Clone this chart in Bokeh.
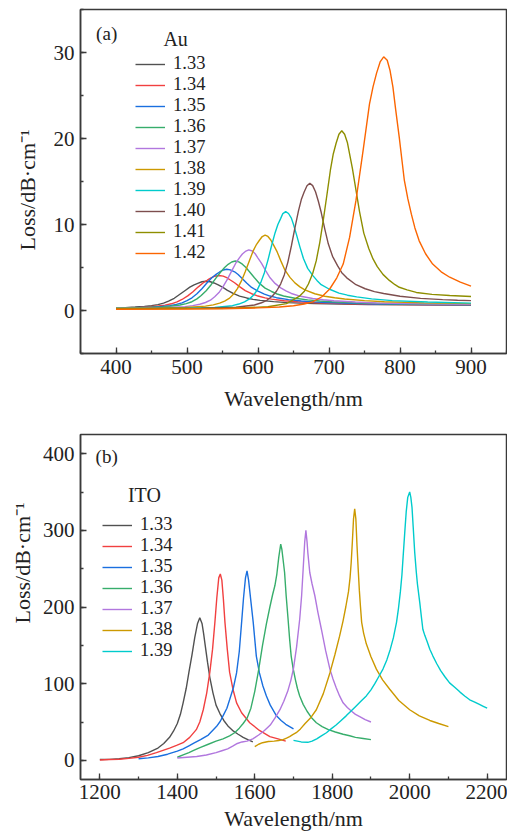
from bokeh.plotting import figure
from bokeh.models import Range1d, SingleIntervalTicker, Legend, LegendItem, Label, Title
from bokeh.layouts import column
from bokeh.embed import file_html
from bokeh.resources import INLINE

FONT = "Liberation Serif"

# ---------------- data: (a) Au ----------------
au_labels = ["1.33", "1.34", "1.35", "1.36", "1.37", "1.38", "1.39", "1.40", "1.41", "1.42"]

au_wl_133 = [400, 413, 427, 440, 450, 459, 467, 474, 482, 489, 497, 504, 510, 516, 521, 527, 533, 538, 544, 550, 557, 565, 574, 584, 593, 603, 622, 641, 660, 679, 717, 755, 831, 900]
au_loss_133 = [0.32, 0.34, 0.40, 0.47, 0.56, 0.69, 0.86, 1.10, 1.42, 1.83, 2.30, 2.71, 2.98, 3.18, 3.34, 3.40, 3.34, 3.20, 2.98, 2.72, 2.35, 1.98, 1.68, 1.46, 1.30, 1.18, 1.03, 0.92, 0.86, 0.81, 0.74, 0.69, 0.65, 0.62]

au_wl_134 = [400, 434, 447, 460, 469, 478, 486, 493, 501, 508, 516, 523, 529, 534, 539, 545, 551, 556, 561, 567, 574, 582, 591, 600, 610, 619, 637, 656, 675, 693, 730, 767, 841, 900]
au_loss_134 = [0.30, 0.36, 0.43, 0.52, 0.63, 0.78, 1.00, 1.28, 1.70, 2.16, 2.75, 3.23, 3.55, 3.80, 3.99, 4.07, 4.00, 3.82, 3.55, 3.23, 2.78, 2.31, 1.95, 1.68, 1.47, 1.32, 1.13, 1.01, 0.93, 0.87, 0.79, 0.73, 0.67, 0.64]

au_wl_135 = [400, 416, 451, 464, 476, 485, 493, 500, 507, 514, 521, 528, 535, 541, 546, 551, 556, 561, 567, 572, 577, 584, 591, 600, 609, 617, 626, 643, 661, 678, 696, 731, 766, 836, 900]
au_loss_135 = [0.29, 0.30, 0.39, 0.47, 0.57, 0.71, 0.89, 1.15, 1.48, 1.95, 2.53, 3.20, 3.80, 4.20, 4.48, 4.71, 4.80, 4.72, 4.50, 4.18, 3.78, 3.20, 2.68, 2.25, 1.91, 1.68, 1.49, 1.26, 1.10, 1.00, 0.93, 0.83, 0.76, 0.70, 0.65]

au_wl_136 = [400, 432, 466, 479, 490, 499, 507, 514, 520, 527, 534, 541, 548, 553, 558, 563, 568, 573, 578, 583, 588, 595, 602, 610, 619, 627, 636, 652, 670, 687, 704, 738, 772, 840, 900]
au_loss_136 = [0.28, 0.32, 0.42, 0.52, 0.64, 0.80, 1.02, 1.35, 1.74, 2.30, 3.00, 3.80, 4.54, 5.00, 5.37, 5.64, 5.75, 5.65, 5.39, 5.00, 4.50, 3.80, 3.15, 2.60, 2.21, 1.92, 1.69, 1.42, 1.23, 1.10, 1.02, 0.89, 0.81, 0.73, 0.68]

au_wl_137 = [400, 440, 467, 497, 508, 518, 526, 533, 539, 545, 551, 557, 563, 569, 574, 578, 583, 587, 592, 596, 600, 605, 611, 617, 624, 632, 640, 647, 660, 677, 692, 707, 737, 767, 827, 900]
au_loss_137 = [0.28, 0.30, 0.33, 0.45, 0.57, 0.73, 0.93, 1.20, 1.60, 2.09, 2.80, 3.65, 4.60, 5.55, 6.15, 6.57, 6.91, 7.05, 6.92, 6.60, 6.10, 5.49, 4.60, 3.80, 3.15, 2.63, 2.25, 1.98, 1.65, 1.40, 1.25, 1.14, 0.98, 0.88, 0.78, 0.71]

au_wl_138 = [400, 460, 498, 526, 537, 546, 553, 560, 566, 571, 577, 582, 588, 593, 598, 602, 606, 610, 614, 618, 622, 627, 632, 638, 645, 652, 659, 666, 680, 694, 708, 722, 750, 778, 834, 900]
au_loss_138 = [0.27, 0.30, 0.35, 0.51, 0.65, 0.85, 1.10, 1.44, 1.95, 2.55, 3.50, 4.51, 5.80, 6.90, 7.70, 8.17, 8.60, 8.77, 8.61, 8.20, 7.60, 6.81, 5.80, 4.69, 3.85, 3.21, 2.75, 2.40, 1.95, 1.66, 1.48, 1.34, 1.15, 1.01, 0.89, 0.80]

au_wl_139 = [400, 500, 539, 564, 573, 581, 588, 594, 599, 604, 609, 614, 619, 624, 628, 632, 635, 639, 643, 647, 650, 654, 659, 664, 670, 677, 683, 689, 700, 714, 726, 739, 760, 789, 839, 900]
au_loss_139 = [0.25, 0.27, 0.36, 0.56, 0.75, 1.01, 1.35, 1.80, 2.40, 3.27, 4.40, 5.86, 7.50, 9.02, 10.00, 10.71, 11.27, 11.50, 11.28, 10.74, 10.00, 8.88, 7.40, 6.05, 4.90, 4.09, 3.50, 3.00, 2.50, 2.02, 1.78, 1.58, 1.35, 1.15, 0.98, 0.86]

au_wl_140 = [400, 520, 569, 595, 605, 613, 620, 626, 632, 637, 642, 647, 652, 657, 661, 665, 669, 673, 677, 681, 685, 689, 694, 699, 705, 712, 718, 725, 738, 751, 764, 777, 800, 829, 860, 881, 900]
au_loss_140 = [0.22, 0.26, 0.38, 0.64, 0.90, 1.22, 1.65, 2.24, 3.10, 4.14, 5.60, 7.50, 9.60, 11.59, 12.90, 13.78, 14.50, 14.80, 14.52, 13.81, 12.70, 11.42, 9.50, 7.75, 6.30, 5.21, 4.40, 3.80, 3.00, 2.53, 2.20, 1.97, 1.65, 1.41, 1.27, 1.19, 1.15]

au_wl_141 = [400, 560, 614, 640, 658, 665, 671, 677, 682, 687, 692, 697, 702, 706, 710, 714, 718, 722, 726, 733, 738, 743, 749, 756, 762, 768, 776, 785, 793, 799, 810, 823, 845, 870, 900]
au_loss_141 = [0.20, 0.26, 0.43, 0.80, 1.63, 2.20, 3.08, 4.30, 5.77, 7.90, 10.54, 13.40, 16.34, 18.20, 19.45, 20.49, 20.90, 20.50, 19.50, 16.50, 14.00, 11.50, 9.00, 7.20, 6.00, 5.10, 4.20, 3.50, 3.00, 2.70, 2.40, 2.10, 1.88, 1.74, 1.63]

au_wl_142 = [400, 500, 550, 600, 630, 650, 665, 677, 690, 701, 711, 720, 729, 738, 748, 757, 762, 767, 772, 777, 782, 786, 790, 794, 799, 803, 806, 811, 816, 821, 827, 836, 846, 858, 870, 885, 900]
au_loss_142 = [0.15, 0.17, 0.20, 0.30, 0.40, 0.55, 0.75, 1.00, 1.60, 2.50, 3.80, 5.40, 8.50, 12.80, 18.60, 24.00, 26.00, 27.60, 28.90, 29.50, 29.10, 27.90, 26.00, 23.30, 20.10, 17.30, 15.20, 13.00, 11.20, 9.60, 8.10, 6.60, 5.40, 4.50, 3.87, 3.30, 2.83]

# ---------------- data: (b) ITO ----------------
ito_labels = ["1.33", "1.34", "1.35", "1.36", "1.37", "1.38", "1.39"]

ito_wl_133 = [1200, 1225, 1250, 1275, 1300, 1325, 1350, 1365, 1380, 1390, 1400, 1408, 1415, 1423, 1430, 1438, 1445, 1452, 1458, 1464, 1468, 1472, 1478, 1484, 1492, 1500, 1510, 1520, 1532, 1545, 1557, 1570, 1582, 1595]
ito_loss_133 = [1, 1.3, 2, 3.5, 6, 10, 16, 22, 30, 38, 48, 60, 75, 94, 115, 138, 160, 178, 186, 178, 165, 150, 128, 108, 88, 72, 61, 52, 44, 38, 34, 30, 27, 24]

ito_wl_134 = [1200, 1225, 1250, 1275, 1300, 1323, 1346, 1363, 1380, 1398, 1415, 1432, 1449, 1458, 1467, 1476, 1484, 1491, 1497, 1502, 1507, 1511, 1515, 1519, 1523, 1529, 1535, 1544, 1553, 1566, 1587, 1612, 1639, 1660, 1680]
ito_loss_134 = [0.5, 1, 1.5, 2.5, 4, 6.5, 10, 13, 16, 19.5, 23, 30, 40, 50, 66, 88, 115, 145, 180, 212, 238, 243, 235, 210, 180, 145, 115, 92, 75, 62, 49, 39, 31, 28, 25]

ito_wl_135 = [1300, 1325, 1350, 1375, 1400, 1415, 1430, 1445, 1460, 1480, 1501, 1511, 1520, 1528, 1535, 1545, 1553, 1560, 1566, 1571, 1576, 1580, 1584, 1589, 1596, 1604, 1612, 1621, 1630, 1640, 1656, 1668, 1680, 1690, 1700]
ito_loss_135 = [2, 3.2, 5, 8, 12, 15, 19, 23, 27, 33, 44, 51, 60, 68, 79, 95, 114, 142, 180, 212, 238, 247, 235, 212, 180, 136, 114, 97, 84, 72, 58, 52, 47, 44, 41]

ito_wl_136 = [1400, 1415, 1430, 1445, 1460, 1480, 1500, 1518, 1535, 1548, 1560, 1570, 1580, 1590, 1600, 1610, 1620, 1630, 1639, 1646, 1652, 1657, 1662, 1667, 1670, 1674, 1677, 1681, 1686, 1690, 1694, 1699, 1705, 1710, 1716, 1725, 1735, 1746, 1759, 1774, 1790, 1808, 1828, 1845, 1860, 1880, 1900]
ito_loss_136 = [4, 7, 10, 13.5, 17, 21, 25, 28, 32, 36, 42, 48, 55, 68, 90, 118, 150, 178, 200, 216, 228, 243, 265, 282, 275, 258, 245, 215, 184, 158, 136, 120, 105, 94, 84, 73, 64, 56, 49, 44, 40, 37, 34, 32, 30, 28.5, 27]

ito_wl_137 = [1400, 1425, 1450, 1475, 1500, 1515, 1530, 1543, 1555, 1567, 1580, 1595, 1610, 1625, 1640, 1652, 1665, 1675, 1685, 1693, 1700, 1708, 1716, 1721, 1725, 1729, 1732, 1735, 1737, 1742, 1748, 1755, 1763, 1772, 1783, 1794, 1802, 1810, 1819, 1828, 1839, 1850, 1860, 1871, 1885, 1900]
ito_loss_137 = [3, 4, 5, 7, 10, 12.5, 15, 18.5, 22, 24, 25, 28, 33, 39, 46, 55, 66, 77, 90, 104, 120, 148, 184, 215, 250, 285, 300, 285, 271, 245, 230, 215, 193, 171, 143, 119, 106, 95, 84, 75, 69, 64, 60, 57, 53, 50]

ito_wl_138 = [1600, 1610, 1620, 1635, 1650, 1662, 1673, 1682, 1690, 1698, 1707, 1718, 1730, 1745, 1759, 1777, 1794, 1807, 1819, 1828, 1835, 1842, 1846, 1849, 1852, 1855, 1858, 1861, 1864, 1867, 1870, 1873, 1876, 1881, 1888, 1900, 1914, 1930, 1948, 1972, 2000, 2025, 2052, 2075, 2100]
ito_loss_138 = [18, 21, 23, 24.5, 25, 25.8, 27, 29, 31, 33.5, 36, 41, 48, 56, 66, 87, 114, 138, 162, 182, 200, 220, 238, 258, 285, 315, 328, 315, 280, 250, 222, 200, 180, 166, 152, 135, 119, 105, 93, 78, 66, 58, 52, 48, 44]

ito_wl_139 = [1700, 1710, 1720, 1737, 1748, 1760, 1772, 1785, 1797, 1810, 1823, 1836, 1848, 1860, 1874, 1888, 1900, 1910, 1920, 1931, 1941, 1950, 1958, 1966, 1971, 1976, 1980, 1983, 1987, 1991, 1995, 2000, 2003, 2006, 2009, 2013, 2017, 2020, 2026, 2030, 2034, 2039, 2045, 2052, 2060, 2070, 2080, 2091, 2103, 2117, 2130, 2142, 2155, 2168, 2180, 2190, 2200]
ito_loss_139 = [26, 25, 24, 23.5, 25, 28, 32, 36, 41, 46, 52, 58, 64, 70, 77, 84, 92, 100, 109, 119, 131, 145, 160, 180, 198, 220, 242, 265, 295, 324, 343, 350, 343, 330, 305, 271, 246, 230, 206, 188, 171, 163, 155, 145, 136, 126, 117, 109, 101, 95, 89, 84, 79, 76, 73, 70.5, 68]

colors = ["#515151", "#F14040", "#1A6FDF", "#37AD6B", "#B177DE",
          "#CC9900", "#00CBCC", "#7D4E4E", "#8E8E00", "#FB6501"]

x_title = "Wavelength/nm"
y_title = "Loss/dB\u00b7cm\u207b\u00b9"

au_series = [(au_wl_133, au_loss_133), (au_wl_134, au_loss_134), (au_wl_135, au_loss_135),
             (au_wl_136, au_loss_136), (au_wl_137, au_loss_137), (au_wl_138, au_loss_138),
             (au_wl_139, au_loss_139), (au_wl_140, au_loss_140), (au_wl_141, au_loss_141),
             (au_wl_142, au_loss_142)]
ito_series = [(ito_wl_133, ito_loss_133), (ito_wl_134, ito_loss_134), (ito_wl_135, ito_loss_135),
              (ito_wl_136, ito_loss_136), (ito_wl_137, ito_loss_137), (ito_wl_138, ito_loss_138),
              (ito_wl_139, ito_loss_139)]

AXIS_COLOR = "#3a3a3a"
TEXT_COLOR = "#222222"


def make_panel(height, border_top, border_bottom, xr, yr, xint, yint,
               tick_standoff, xlabel_standoff, ytitle_standoff, ytitle_offset):
    p = figure(width=507, height=height, output_backend="svg", toolbar_location=None,
               x_range=Range1d(*xr), y_range=Range1d(*yr),
               min_border_left=80, min_border_right=1,
               min_border_top=border_top, min_border_bottom=border_bottom)
    p.xgrid.visible = False
    p.ygrid.visible = False
    p.outline_line_color = AXIS_COLOR
    p.outline_line_width = 1.5
    p.outline_line_alpha = 1.0
    p.xaxis.ticker = SingleIntervalTicker(interval=xint, num_minor_ticks=2)
    p.yaxis.ticker = SingleIntervalTicker(interval=yint, num_minor_ticks=2)
    for ax in (p.xaxis[0], p.yaxis[0]):
        ax.axis_line_color = AXIS_COLOR
        ax.axis_line_width = 1.5
        ax.major_tick_line_color = AXIS_COLOR
        ax.minor_tick_line_color = AXIS_COLOR
        ax.major_tick_line_width = 1.3
        ax.minor_tick_line_width = 1.3
        ax.major_tick_in = 6
        ax.major_tick_out = 0
        ax.minor_tick_in = 3
        ax.minor_tick_out = 0
        ax.major_label_text_font = FONT
        ax.major_label_text_font_size = "21px"
        ax.major_label_text_color = TEXT_COLOR
    p.xaxis.major_label_standoff = tick_standoff
    p.yaxis.major_label_standoff = 6
    p.xaxis.axis_label = x_title
    p.xaxis.axis_label_text_font = FONT
    p.xaxis.axis_label_text_font_size = "22px"
    p.xaxis.axis_label_text_font_style = "normal"
    p.xaxis.axis_label_text_color = TEXT_COLOR
    p.xaxis.axis_label_standoff = xlabel_standoff
    ytitle = Title(text=y_title, align="left", offset=ytitle_offset, standoff=ytitle_standoff,
                   text_font=FONT, text_font_size="22px", text_font_style="normal",
                   text_color=TEXT_COLOR)
    p.add_layout(ytitle, "left")
    return p


def make_legend(items, loc):
    return Legend(items=items, location=loc, glyph_width=30, glyph_height=18,
                  label_height=18, label_standoff=8, spacing=0, padding=0, margin=0,
                  label_text_font=FONT, label_text_font_size="18.5px",
                  label_text_color=TEXT_COLOR,
                  border_line_alpha=0, background_fill_alpha=0)


def text_label(p, x, y, text, size, align="left"):
    p.add_layout(Label(x=x, y=y, text=text, text_font=FONT, text_font_size=size,
                       text_baseline="middle", text_align=align, text_color=TEXT_COLOR))


# ---------------- panel (a) ----------------
pa = make_panel(420, 9, 67, (350, 950), (-5, 35), 100, 10, 6, 9, 22, 103)
items_a = []
for (wl, loss), lab, col in zip(au_series, au_labels, colors):
    r = pa.line(wl, loss, line_color=col, line_width=1.4)
    items_a.append(LegendItem(label=lab, renderers=[r]))
pa.add_layout(make_legend(items_a, (55, 90)))
text_label(pa, 372, 32.2, "(a)", "19px")
text_label(pa, 484, 31.6, "Au", "20px", align="center")

# ---------------- panel (b) ----------------
pb = make_panel(414, 14, 55, (1150, 2250), (-25, 425), 200, 100, 5, 4, 10, 156)
items_b = []
for (wl, loss), lab, col in zip(ito_series, ito_labels, colors):
    r = pb.line(wl, loss, line_color=col, line_width=1.4)
    items_b.append(LegendItem(label=lab, renderers=[r]))
pb.add_layout(make_legend(items_b, (22, 118)))
text_label(pb, 1189, 396, "(b)", "19px")
text_label(pb, 1315, 346, "ITO", "20px", align="center")

layout = column(pa, pb, spacing=0)
open("out.html", "w").write(file_html(layout, INLINE))
